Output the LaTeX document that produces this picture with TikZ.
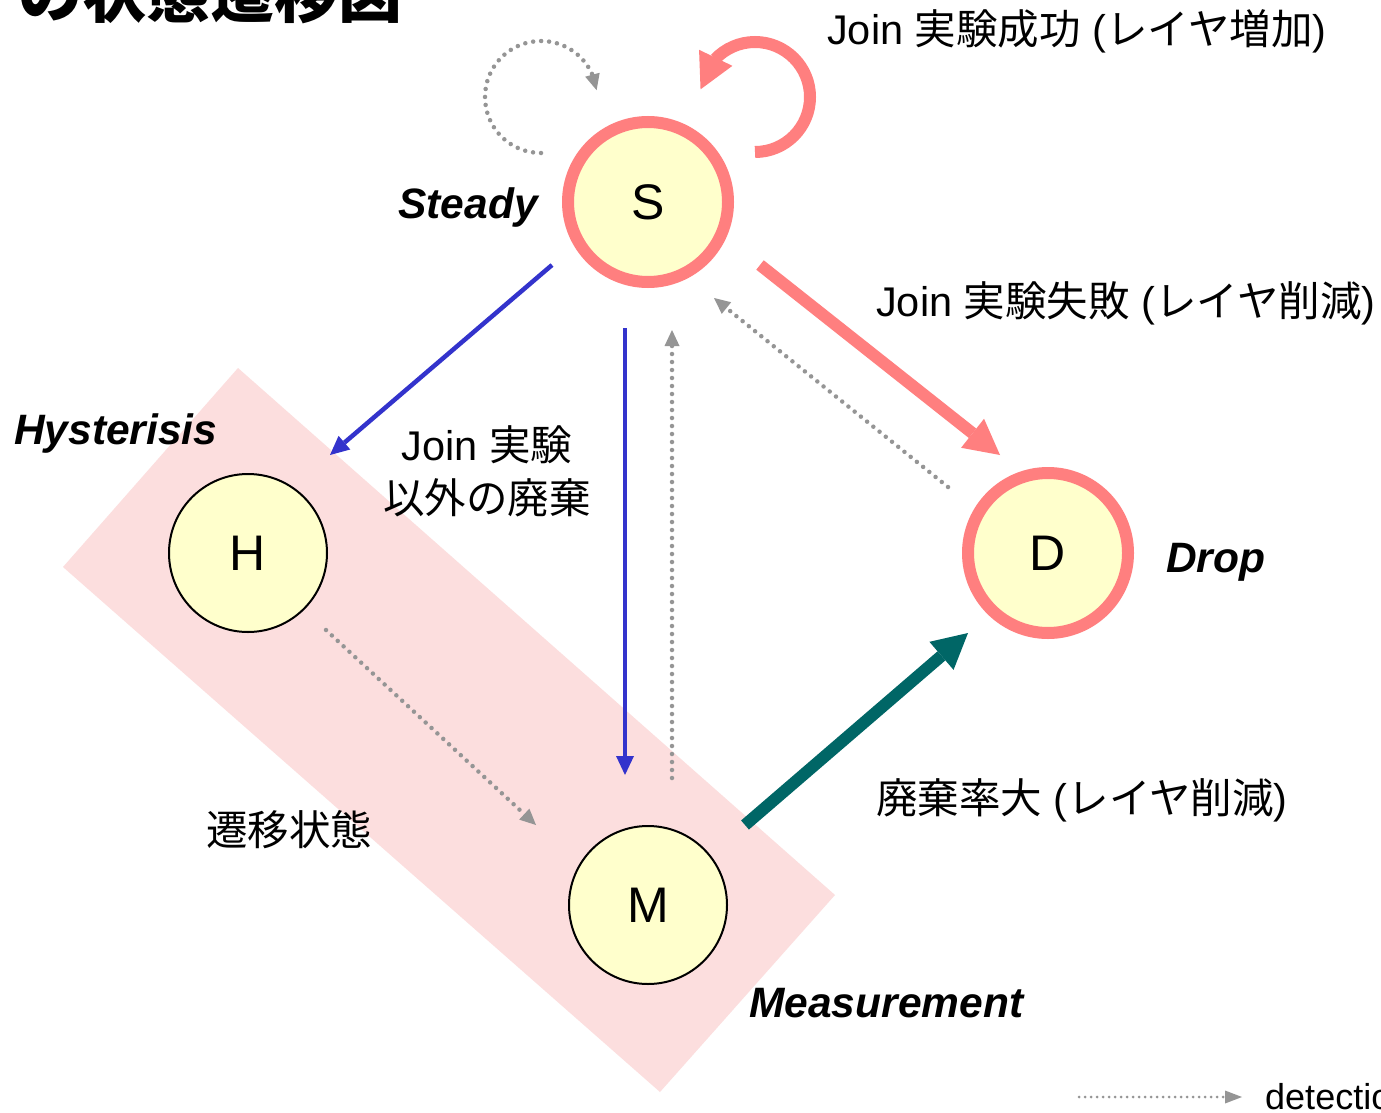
\documentclass[tikz,border=0pt]{standalone}
\usepackage{fontspec}
\setmainfont{Liberation Sans}
\newfontfamily\cjk{Noto Sans CJK JP}
\usetikzlibrary{arrows.meta,bending}
\definecolor{spink}{HTML}{FF7F7F}
\definecolor{syel}{HTML}{FFFFCC}
\definecolor{sblue}{HTML}{3333CC}
\definecolor{steal}{HTML}{006666}
\definecolor{sgray}{HTML}{959595}
\definecolor{sbg}{HTML}{FCDEDE}
\begin{document}
\begin{tikzpicture}[x=1pt,y=-1pt,
  statebig/.style={circle, draw=spink, line width=12pt, fill=syel, minimum size=160pt, inner sep=0pt, font=\fontsize{50}{50}\selectfont},
  statesmall/.style={circle, draw=black, line width=2pt, fill=syel, minimum size=158pt, inner sep=0pt, font=\fontsize{50}{50}\selectfont},
  lbl/.style={inner sep=0pt, font=\fontsize{41.5}{53}\selectfont},
  tag/.style={inner sep=0pt, font=\fontsize{42.5}{50}\selectfont\bfseries\itshape},
  bluearr/.style={draw=sblue, line width=4.5pt, -{Triangle[length=19pt,width=18pt,line width=0pt]}},
  pinkarr/.style={draw=spink, line width=12pt, -{Triangle[length=35pt,width=37pt,line width=0pt]}},
  tealarr/.style={draw=steal, line width=12pt, -{Triangle[length=35pt,width=37pt,line width=0pt]}},
  pinkloop/.style={draw=spink, line width=12pt, -{Triangle[length=35pt,width=37pt,line width=0pt]}},
  dotarr/.style={draw=sgray, line width=4.5pt, line cap=round, dash pattern=on 0pt off 8pt, -{Triangle[length=16pt,width=15pt,line width=0pt]}},
  legarr/.style={draw=sgray, line width=3pt, line cap=round, dash pattern=on 0pt off 6pt, -{Triangle[length=17pt,width=13pt,line width=0pt]}},
]
\useasboundingbox (0,0) rectangle (1381,1113);
\clip (0,0) rectangle (1381,1113);
\fill[white] (0,0) rectangle (1381,1113);
% transition-state region
\fill[sbg] (238,368) -- (835,895) -- (660,1092) -- (63,567) -- cycle;
% states
\node[statebig] (S) at (648,202) {S};
\node[statebig] (D) at (1048,553) {D};
\node[statesmall] (H) at (248,553) {H};
\node[statesmall] (M) at (648,905) {M};
% title
\node[inner sep=0pt, anchor=base west, font=\fontsize{64}{64}\selectfont\cjk\bfseries] (title) at (18,18) {の状態遷移図};
% labels
\node[lbl, anchor=base west] (l1) at (827,45) {Join {\cjk 実験成功} ({\cjk レイヤ増加})};
\node[lbl, anchor=base west] (l2) at (876,316) {Join {\cjk 実験失敗} ({\cjk レイヤ削減})};
\node[lbl, anchor=base west] (l3) at (876,813) {{\cjk 廃棄率大} ({\cjk レイヤ削減})};
\node[lbl, align=center] (l4) at (487,471) {Join {\cjk 実験}\\{\cjk 以外の廃棄}};
\node[lbl] (l5) at (289,830) {\cjk 遷移状態};
\node[tag, anchor=base east] (tS) at (538,218) {Steady};
\node[tag, anchor=base west] (tH) at (14,444) {Hysterisis};
\node[tag, anchor=base west] (tD) at (1166,572) {Drop};
\node[tag, anchor=base west] (tM) at (749,1017) {Measurement};
% self loops
\draw[pinkloop] ([shift={(107,-50)}]S.center) arc[start angle=90, end angle=-172, radius=55];
\draw[dotarr] ([shift={(-107,-49)}]S.center) arc[start angle=90, end angle=353, radius=56];
% transitions
\draw[bluearr] ([shift={(-96,63)}]S.center) -- ([shift={(82,-98)}]H.center);
\draw[bluearr] ([shift={(-23,126)}]S.center) -- ([shift={(-23,-130)}]M.center);
\draw[dotarr] ([shift={(24,-127)}]M.center) -- ([shift={(24,128)}]S.center);
\draw[dotarr] ([shift={(-100,-66)}]D.center) -- ([shift={(66,96)}]S.center);
\draw[dotarr] ([shift={(78,77)}]H.center) -- ([shift={(-112,-80)}]M.center);
\draw[pinkarr] ([shift={(112,63)}]S.center) -- ([shift={(-48,-98)}]D.center);
\draw[tealarr] ([shift={(97,-80)}]M.center) -- ([shift={(-80,80)}]D.center);
% legend
\coordinate (lgA) at (1079,1097);
\coordinate (lgB) at (1242,1097);
\draw[legarr] (lgA) -- (lgB);
\node[inner sep=0pt, anchor=base west, font=\fontsize{36}{40}\selectfont] (lgT) at (1265,1109) {detection};
\end{tikzpicture}
\end{document}
